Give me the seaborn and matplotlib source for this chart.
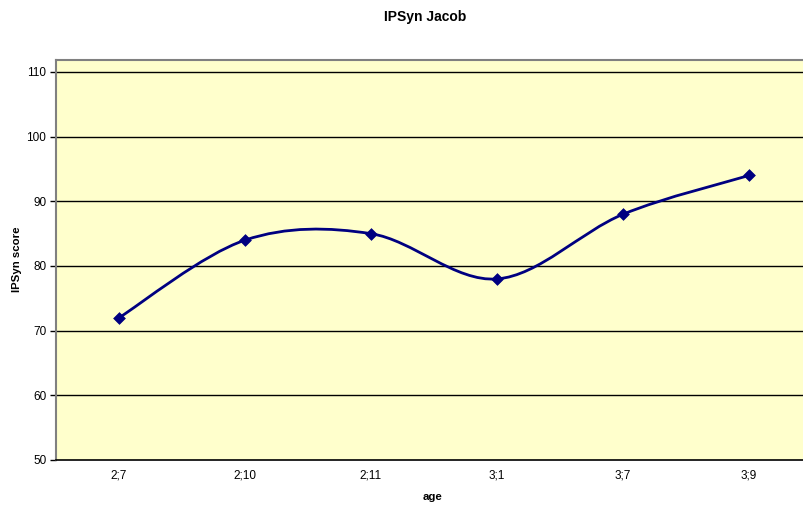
import numpy as np
import pandas as pd
import matplotlib
matplotlib.use("Agg")
import matplotlib.pyplot as plt
import seaborn as sns
from matplotlib.path import Path
from matplotlib.patches import PathPatch

ages = ["2;7", "2;10", "2;11", "3;1", "3;7", "3;9"]
scores = [72, 84, 85, 78, 88, 94]
y_ticks = [50, 60, 70, 80, 90, 100, 110]

sns.set_style("white")
plt.rcParams['font.family'] = ['Liberation Sans', 'DejaVu Sans']
plt.rcParams['text.color'] = 'black'
plt.rcParams['xtick.color'] = 'black'
plt.rcParams['ytick.color'] = 'black'
plt.rcParams['xtick.labelcolor'] = 'black'
plt.rcParams['ytick.labelcolor'] = 'black'

df = pd.DataFrame({"age": ages, "score": scores})
df["pos"] = np.arange(len(ages))

fig = plt.figure(figsize=(8.04, 5.08), dpi=100)
W, H = 804, 508
left, right, top, bottom = 56, 812, 60, 460
ax = fig.add_axes([left / W, 1 - bottom / H, (right - left) / W, (bottom - top) / H])
ax.set_facecolor("#FFFFCC")

# smooth (Excel-like) Bezier curve through the data points
xs = df["pos"].to_numpy(float)
ys = df["score"].to_numpy(float)
pts = np.column_stack([xs, ys])
verts = [tuple(pts[0])]
codes = [Path.MOVETO]
n = len(pts)
for i in range(n - 1):
    p0 = pts[i - 1] if i > 0 else pts[i]
    p1 = pts[i]
    p2 = pts[i + 1]
    p3 = pts[i + 2] if i + 2 < n else pts[i + 1]
    c1 = p1 + (p2 - p0) / 6
    c2 = p2 - (p3 - p1) / 6
    verts += [tuple(c1), tuple(c2), tuple(p2)]
    codes += [Path.CURVE4] * 3
ax.add_patch(PathPatch(Path(verts, codes), facecolor="none", edgecolor="#000080", lw=2, zorder=3))

sns.scatterplot(data=df, x="pos", y="score", marker="D", s=36, color="#000080",
                edgecolor="#000080", ax=ax, zorder=4, legend=False)

ax.set_xlim(-0.5, len(ages) - 0.5)
ax.set_ylim(50, 110 + 12 / ((bottom - 72) / 60))
ax.set_yticks(y_ticks)
ax.set_yticklabels([str(v) for v in y_ticks], fontsize=8.5)
ax.set_xticks(df["pos"])
ax.set_xticklabels(ages, fontsize=8.5)
ax.set_xticks(np.arange(-0.5, len(ages) + 0.5, 1), minor=True)
ax.tick_params(axis="x", which="major", length=0, pad=7)
ax.tick_params(axis="x", which="minor", length=4, width=1, color="black", direction="out")
ax.tick_params(axis="y", length=4, width=1, color="black", direction="out", left=True, pad=3)
for v in y_ticks[1:]:
    ax.axhline(v, color="black", lw=1, zorder=1)

ax.spines["left"].set_color("#808080")
ax.spines["left"].set_linewidth(1.5)
ax.spines["top"].set_color("#808080")
ax.spines["top"].set_linewidth(1.5)
ax.spines["right"].set_visible(False)
ax.spines["bottom"].set_color("black")
ax.spines["bottom"].set_linewidth(1.2)

ax.set_xlabel("")
ax.set_ylabel("")
fig.text(433 / W, 1 - 497 / H, "age", fontsize=8.2, fontweight="bold", ha="center", va="center")
fig.text(17 / W, 1 - 259 / H, "IPSyn score", fontsize=8.2, fontweight="bold", ha="center",
         va="center", rotation=90)
fig.text(425 / W, 1 - 17 / H, "IPSyn Jacob", fontsize=10, fontweight="bold", ha="center",
         va="center")

fig.savefig("out.png", dpi=100, facecolor="white")
